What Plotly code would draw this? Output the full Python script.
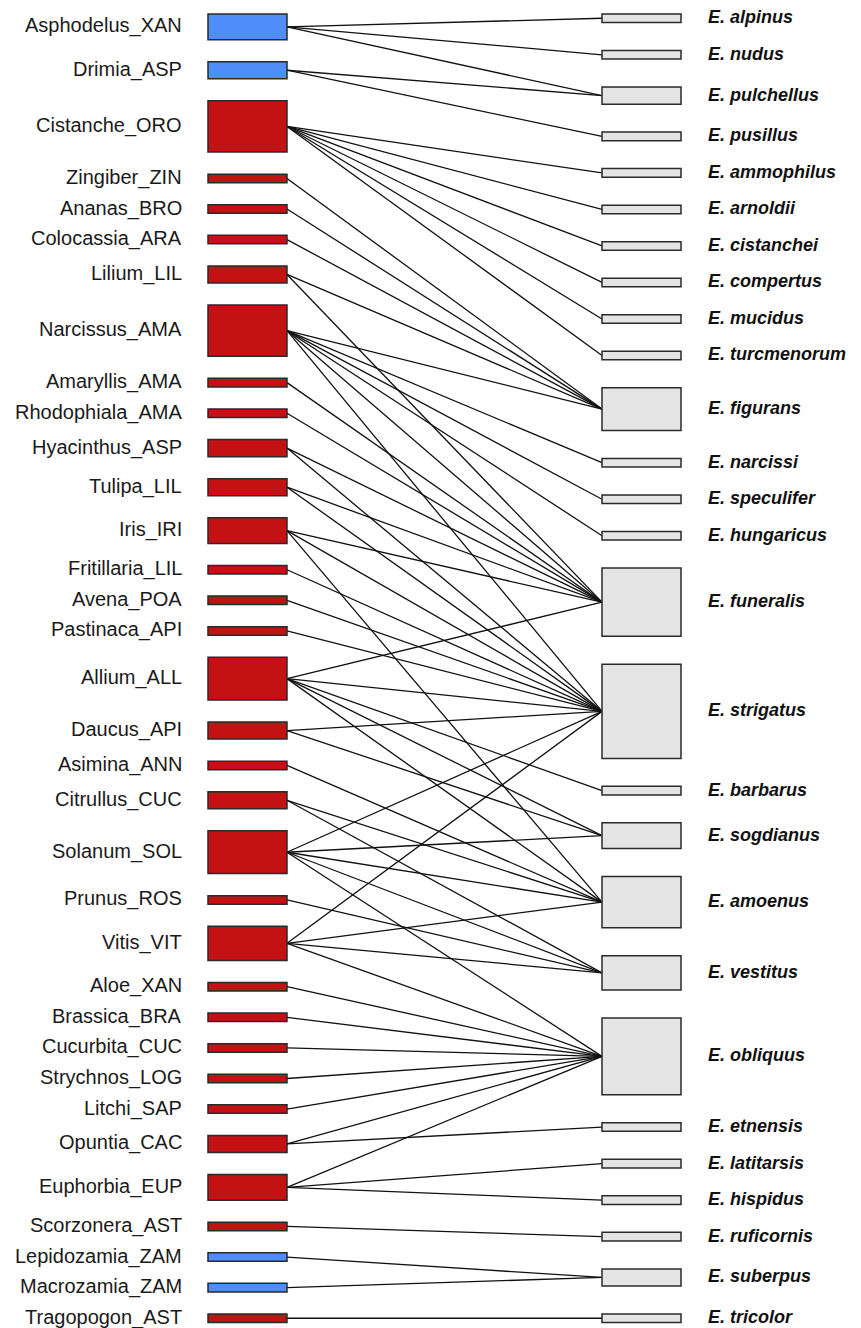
import plotly.graph_objects as go

# Host plants (left column), top to bottom
hosts = [
    "Asphodelus_XAN", "Drimia_ASP", "Cistanche_ORO", "Zingiber_ZIN", "Ananas_BRO",
    "Colocassia_ARA", "Lilium_LIL", "Narcissus_AMA", "Amaryllis_AMA", "Rhodophiala_AMA",
    "Hyacinthus_ASP", "Tulipa_LIL", "Iris_IRI", "Fritillaria_LIL", "Avena_POA",
    "Pastinaca_API", "Allium_ALL", "Daucus_API", "Asimina_ANN", "Citrullus_CUC",
    "Solanum_SOL", "Prunus_ROS", "Vitis_VIT", "Aloe_XAN", "Brassica_BRA",
    "Cucurbita_CUC", "Strychnos_LOG", "Litchi_SAP", "Opuntia_CAC", "Euphorbia_EUP",
    "Scorzonera_AST", "Lepidozamia_ZAM", "Macrozamia_ZAM", "Tragopogon_AST",
]
# Host group used for box colour
host_group = [
    "b", "b", "r", "r", "r", "r", "r", "r", "r", "r", "r", "r", "r", "r", "r", "r", "r",
    "r", "r", "r", "r", "r", "r", "r", "r", "r", "r", "r", "r", "r", "r", "b", "b", "r",
]

# Eumerus species (right column), top to bottom
species = [
    "E. alpinus", "E. nudus", "E. pulchellus", "E. pusillus", "E. ammophilus",
    "E. arnoldii", "E. cistanchei", "E. compertus", "E. mucidus", "E. turcmenorum",
    "E. figurans", "E. narcissi", "E. speculifer", "E. hungaricus", "E. funeralis",
    "E. strigatus", "E. barbarus", "E. sogdianus", "E. amoenus", "E. vestitus",
    "E. obliquus", "E. etnensis", "E. latitarsis", "E. hispidus", "E. ruficornis",
    "E. suberpus", "E. tricolor",
]

# Recorded host -> species associations
links = [
    ("Asphodelus_XAN", "E. alpinus"), ("Asphodelus_XAN", "E. nudus"),
    ("Asphodelus_XAN", "E. pulchellus"),
    ("Drimia_ASP", "E. pulchellus"), ("Drimia_ASP", "E. pusillus"),
    ("Cistanche_ORO", "E. ammophilus"), ("Cistanche_ORO", "E. arnoldii"),
    ("Cistanche_ORO", "E. cistanchei"), ("Cistanche_ORO", "E. compertus"),
    ("Cistanche_ORO", "E. mucidus"), ("Cistanche_ORO", "E. turcmenorum"),
    ("Zingiber_ZIN", "E. figurans"), ("Ananas_BRO", "E. figurans"),
    ("Colocassia_ARA", "E. figurans"),
    ("Lilium_LIL", "E. figurans"), ("Lilium_LIL", "E. funeralis"),
    ("Narcissus_AMA", "E. figurans"), ("Narcissus_AMA", "E. narcissi"),
    ("Narcissus_AMA", "E. speculifer"), ("Narcissus_AMA", "E. hungaricus"),
    ("Narcissus_AMA", "E. funeralis"), ("Narcissus_AMA", "E. strigatus"),
    ("Amaryllis_AMA", "E. funeralis"), ("Rhodophiala_AMA", "E. funeralis"),
    ("Hyacinthus_ASP", "E. funeralis"), ("Hyacinthus_ASP", "E. strigatus"),
    ("Tulipa_LIL", "E. funeralis"), ("Tulipa_LIL", "E. strigatus"),
    ("Iris_IRI", "E. funeralis"), ("Iris_IRI", "E. strigatus"), ("Iris_IRI", "E. amoenus"),
    ("Fritillaria_LIL", "E. strigatus"), ("Avena_POA", "E. strigatus"),
    ("Pastinaca_API", "E. strigatus"),
    ("Allium_ALL", "E. funeralis"), ("Allium_ALL", "E. strigatus"),
    ("Allium_ALL", "E. barbarus"), ("Allium_ALL", "E. sogdianus"),
    ("Allium_ALL", "E. amoenus"),
    ("Daucus_API", "E. strigatus"), ("Daucus_API", "E. sogdianus"),
    ("Asimina_ANN", "E. amoenus"),
    ("Citrullus_CUC", "E. amoenus"), ("Citrullus_CUC", "E. vestitus"),
    ("Solanum_SOL", "E. strigatus"), ("Solanum_SOL", "E. sogdianus"),
    ("Solanum_SOL", "E. amoenus"), ("Solanum_SOL", "E. vestitus"),
    ("Solanum_SOL", "E. obliquus"),
    ("Prunus_ROS", "E. vestitus"),
    ("Vitis_VIT", "E. strigatus"), ("Vitis_VIT", "E. amoenus"),
    ("Vitis_VIT", "E. vestitus"), ("Vitis_VIT", "E. obliquus"),
    ("Aloe_XAN", "E. obliquus"), ("Brassica_BRA", "E. obliquus"),
    ("Cucurbita_CUC", "E. obliquus"), ("Strychnos_LOG", "E. obliquus"),
    ("Litchi_SAP", "E. obliquus"),
    ("Opuntia_CAC", "E. obliquus"), ("Opuntia_CAC", "E. etnensis"),
    ("Euphorbia_EUP", "E. obliquus"), ("Euphorbia_EUP", "E. latitarsis"),
    ("Euphorbia_EUP", "E. hispidus"),
    ("Scorzonera_AST", "E. ruficornis"),
    ("Lepidozamia_ZAM", "E. suberpus"), ("Macrozamia_ZAM", "E. suberpus"),
    ("Tragopogon_AST", "E. tricolor"),
]

W, H = 861, 1328
TOP, BOTTOM = 14, 1322.5
LEFT_X = (208, 287)
RIGHT_X = (602, 681)
GROUP_FILL = {"r": "#C41214", "b": "#4F8DFB"}
RIGHT_FILL = "#E4E4E4"
BORDER = "#2A2A2A"


def column_layout(names, degree):
    """Stack boxes with heights proportional to degree and equal gaps."""
    total = sum(degree[n] for n in names)
    unit = 8.55
    gap = (BOTTOM - TOP - unit * total) / (len(names) - 1)
    pos, y = {}, TOP
    for n in names:
        h = unit * degree[n]
        pos[n] = (y, y + h)
        y += h + gap
    return pos


deg_left = {h: 0 for h in hosts}
deg_right = {s: 0 for s in species}
for h, s in links:
    deg_left[h] += 1
    deg_right[s] += 1

pos_left = column_layout(hosts, deg_left)
pos_right = column_layout(species, deg_right)

fig = go.Figure()

# Interaction lines between box centres
lx, ly = [], []
for h, s in links:
    y0 = sum(pos_left[h]) / 2
    y1 = sum(pos_right[s]) / 2
    lx += [LEFT_X[1], RIGHT_X[0], None]
    ly += [y0, y1, None]
fig.add_trace(go.Scatter(x=lx, y=ly, mode="lines",
                         line=dict(color="#111111", width=1.3),
                         hoverinfo="skip", showlegend=False))

shapes = []
annotations = []
for h, g in zip(hosts, host_group):
    y0, y1 = pos_left[h]
    shapes.append(dict(type="rect", x0=LEFT_X[0], x1=LEFT_X[1], y0=y0, y1=y1,
                       fillcolor=GROUP_FILL[g], line=dict(color=BORDER, width=1.5),
                       layer="above"))
    annotations.append(dict(x=184, y=(y0 + y1) / 2 - 1, text=h, showarrow=False,
                            xanchor="right", yanchor="middle",
                            font=dict(family="Liberation Sans, Arial", size=20,
                                      color="#1A1A1A")))

for s in species:
    y0, y1 = pos_right[s]
    shapes.append(dict(type="rect", x0=RIGHT_X[0], x1=RIGHT_X[1], y0=y0, y1=y1,
                       fillcolor=RIGHT_FILL, line=dict(color=BORDER, width=1.5),
                       layer="above"))
    annotations.append(dict(x=706, y=(y0 + y1) / 2 - 1, text=f"<b><i>{s}</i></b>",
                            showarrow=False, xanchor="left", yanchor="middle",
                            font=dict(family="Liberation Sans, Arial", size=18,
                                      color="#111111")))

fig.update_layout(
    width=W, height=H,
    margin=dict(l=0, r=0, t=0, b=0),
    paper_bgcolor="white", plot_bgcolor="white",
    shapes=shapes, annotations=annotations,
    xaxis=dict(range=[0, W], visible=False, fixedrange=True),
    yaxis=dict(range=[H, 0], visible=False, fixedrange=True),
    showlegend=False,
)

fig.write_html("out.html")
